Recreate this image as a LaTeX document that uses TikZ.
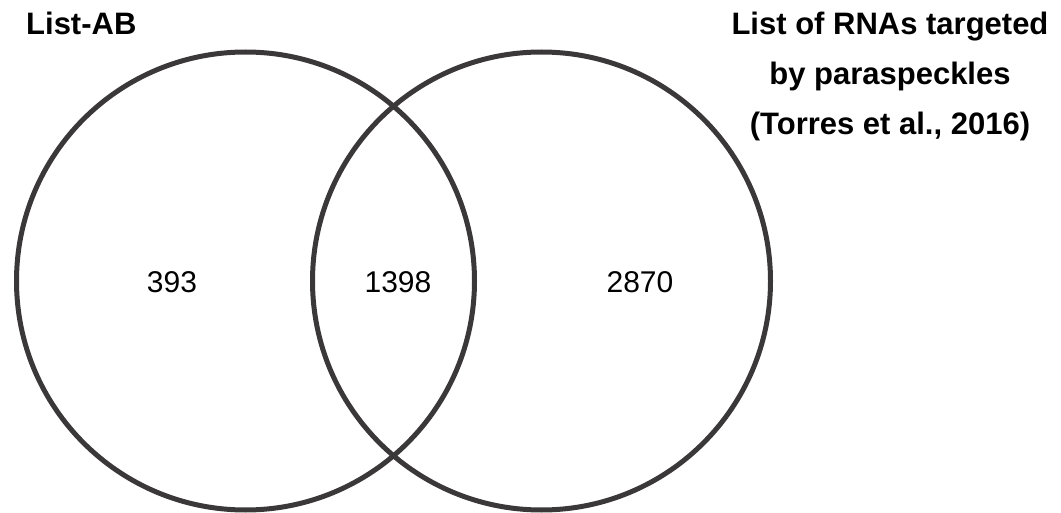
\documentclass[tikz,border=0pt]{standalone}
\usepackage{fontspec}
\setmainfont{Liberation Sans}
\definecolor{ringgray}{HTML}{3A3838}
\begin{document}
\begin{tikzpicture}[x=1pt,y=-1pt,
  ring/.style={circle, draw=ringgray, line width=5pt, inner sep=0pt, minimum size=458pt},
  title/.style={anchor=base, inner sep=0pt, font=\fontsize{31}{36}\selectfont\bfseries},
  count/.style={anchor=base, inner sep=0pt, font=\fontsize{30}{36}\selectfont}]
\useasboundingbox (0,0) rectangle (1061,513);
\node[ring] (A) at (245.5,281) {};
\node[ring] (B) at (541.5,281) {};
\node[title, anchor=base west] (tA) at (26,35) {List-AB};
\node[title] (tB1) at (890,35) {List of RNAs targeted};
\node[title] (tB2) at (890,85) {by paraspeckles};
\node[title] (tB3) at (890,135) {(Torres et al., 2016)};
\node[count] (nA) at (172,293) {393};
\node[count] (nAB) at (398,293) {1398};
\node[count] (nB) at (640,293) {2870};
\end{tikzpicture}
\end{document}
